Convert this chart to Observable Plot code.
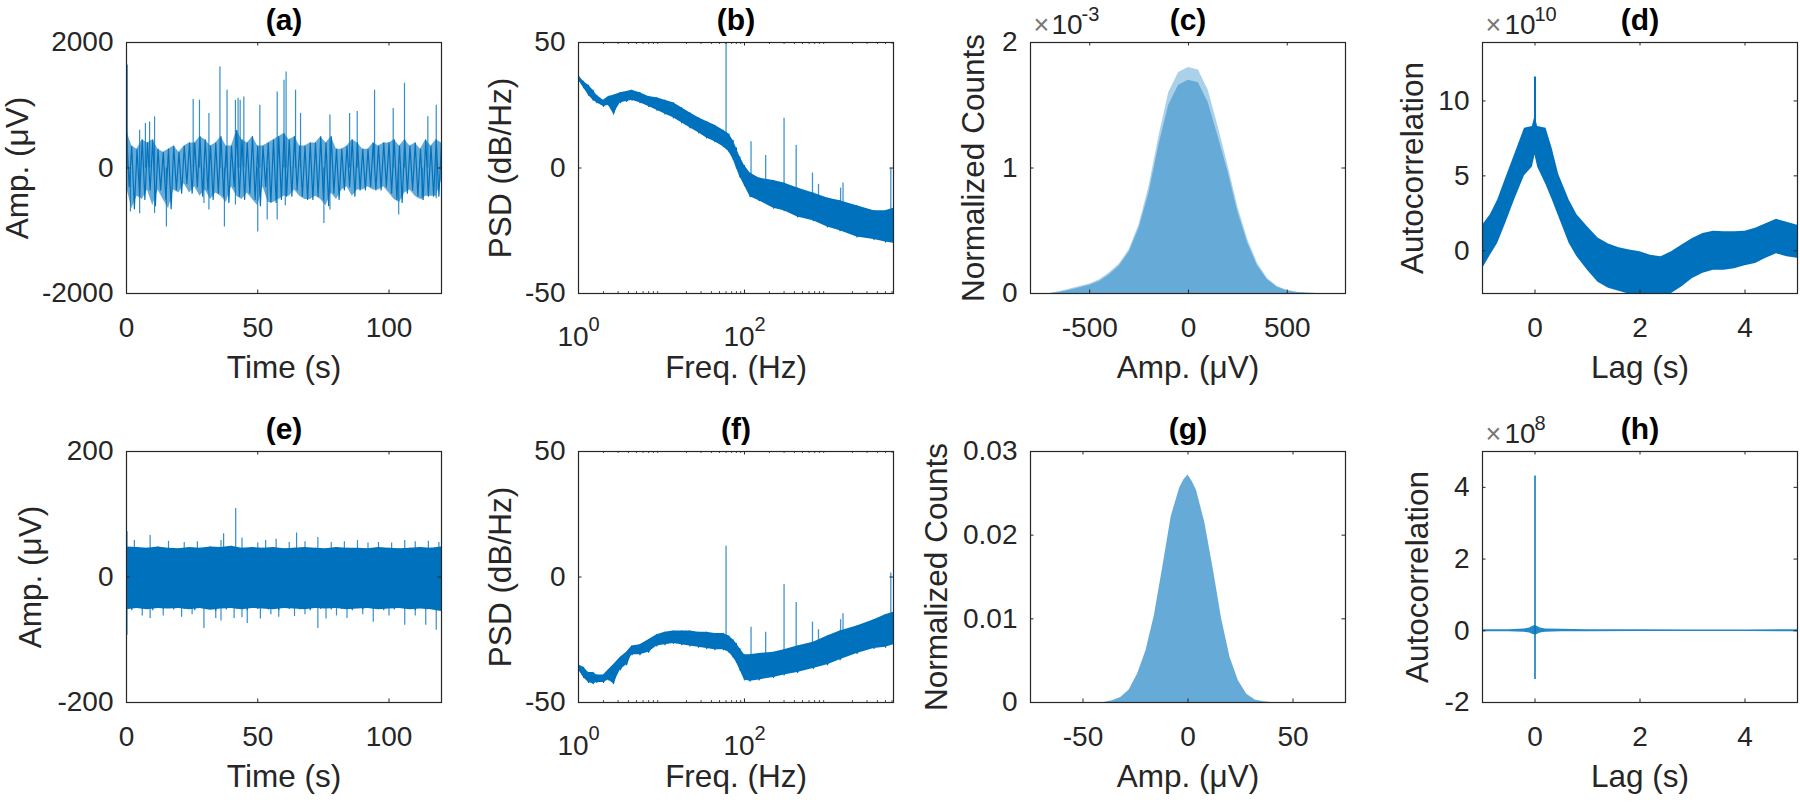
<!DOCTYPE html>
<html><head><meta charset="utf-8">
<script src="https://cdn.jsdelivr.net/npm/d3@7"></script>
<script src="https://cdn.jsdelivr.net/npm/@observablehq/plot@0.6"></script>
<style>
html,body{margin:0;padding:0;background:#fff;}
#fig{position:relative;width:1800px;height:809px;overflow:hidden;background:#fff;}
#fig svg{position:absolute;}
</style></head><body><div id="fig"></div>
<script>
// ---------- (a) raw signal, 0-120 s (uV): core band per 2 s + isolated spikes ----------
const aTime = [0,2,4,6,8,10,12,14,16,18,20,22,24,26,28,30,32,34,36,38,40,42,44,46,48,50,52,54,56,58,60,62,64,66,68,70,72,74,76,78,80,82,84,86,88,90,92,94,96,98,100,102,104,106,108,110,112,114,116,118,120];
const aHigh = [600,350,300,450,400,450,300,250,300,350,250,350,400,400,500,450,350,400,500,350,350,600,450,400,500,350,350,400,450,500,550,450,500,350,350,400,400,500,400,500,300,300,350,450,400,300,300,400,350,400,400,450,350,450,350,400,300,450,350,450,400];
const aLow = [-300,-650,-450,-500,-350,-600,-350,-500,-650,-350,-400,-250,-400,-300,-450,-350,-500,-400,-450,-550,-300,-450,-500,-400,-500,-600,-300,-550,-550,-500,-450,-450,-350,-450,-500,-500,-450,-500,-600,-400,-500,-350,-300,-450,-350,-350,-300,-350,-350,-300,-400,-500,-550,-400,-350,-450,-500,-450,-450,-450,-200];
const aUpT = [0.3,5,7.2,8.8,10.7,25.4,27.8,31.4,35.6,38.3,41.5,42.5,43.3,44.7,50.8,57.4,60,60.8,64.4,66.3,77.5,85,87.9,94.5,101.6,105.9,114.8,118];
const aUpV = [1640,600,710,735,815,1090,1080,870,1610,1240,1080,1110,1080,1130,1000,1210,1400,1530,1240,870,845,870,900,1240,950,1350,815,1000];
const aDnT = [1.5,5,10.7,15.2,29.5,31.4,37.3,41.5,50,53.6,57.4,60.5,75.2,77.5,103.7,112.6,118];
const aDnV = [-700,-730,-725,-940,-565,-670,-940,-590,-1020,-830,-830,-600,-885,-670,-750,-510,-490];

// ---------- (e) filtered signal (uV): core band per 4 s + spikes ----------
const eTime = [0,4,8,12,16,20,24,28,32,36,40,44,48,52,56,60,64,68,72,76,80,84,88,92,96,100,104,108,112,116,120];
const eHigh = [48,47,46,48,46,45,47,46,48,47,49,46,47,46,47,45,46,47,46,45,47,46,46,45,47,46,45,46,47,46,48];
const eLow = [-52,-50,-52,-50,-51,-50,-52,-50,-53,-51,-50,-52,-50,-51,-52,-50,-51,-52,-50,-51,-50,-52,-51,-50,-52,-51,-50,-52,-51,-52,-55];
const eUpT = [0.2,3,9,16,22,27,36,37,41.6,44,50,53,57,62,64.8,68,72.9,78,83,88,92,96,101,106,110,115,119];
const eUpV = [72,58,66,57,55,56,58,69,109,62,54,58,60,55,70,56,63,55,56,58,54,55,54,58,56,57,55];
const eDnT = [0.2,6,9,14,21,25,29.5,34,36,41,44,46,51,55,58,64,68,72.9,76,80,84,90,94,100,106,110,114,118];
const eDnV = [-93,-62,-66,-62,-64,-60,-82,-66,-70,-66,-65,-74,-67,-60,-64,-63,-60,-82,-67,-62,-66,-60,-72,-62,-77,-62,-77,-85];

// ---------- (b),(f) PSD (dB/Hz) ----------
const psdFreq = [1,1.15,1.32,1.5,1.66,2,2.3,2.64,3.2,3.8,4.4,5.5,7,8.8,11,13.9,17.5,22,28,35,44,55.6,65,73,80,88,100,117,150,224,300,436,675,1000,1418,2270,3640,5000,6250];
const bHigh = [37,34.5,33,31,29,27,28.5,29,30,30.5,31,30,28.5,28,27,26,24,22,20,18.5,17,15,13.5,11,8,4.5,1,-2,-4,-5,-6,-8,-10,-12,-13,-15,-17,-17,-16];
const bLow = [35,32,29,27,26,24.5,25,21.5,26,26.5,27,26,24.5,23,21.5,20,18,16,14,12,10.5,8.5,6.5,3.5,0,-3.5,-7,-11.5,-13,-16,-17,-19.5,-21,-23.5,-25,-27.5,-28.5,-29.5,-30];
const fHigh = [-35,-36,-38,-38,-39,-39,-37,-35,-32,-30,-27.5,-27,-25,-23,-22,-21.5,-21.5,-21.5,-22,-22,-22.5,-22.5,-23.5,-25,-26.5,-28.5,-31,-31,-30.5,-30,-29,-27.5,-26,-23.5,-21.5,-19.5,-17,-15,-14];
const fLow = [-37,-40,-42,-42.5,-42,-42,-41,-42.5,-37,-35,-31,-31,-30,-27.5,-27,-26.5,-27,-27.5,-28,-28.5,-29,-29,-30,-32,-34,-37,-41,-41.5,-41,-40,-39,-38,-36.5,-35,-33,-30.5,-28.5,-28,-27];
const lineFreq = [60,120,180,300,420,660,780,1440,1540,5800];
const bSpikeTop = [49.6,10.5,5,19.8,9,-2,-6.5,-8,-6,-0.2];
const bSpikeBase = [10,-5,-8,-10,-12,-14,-15,-18,-18,-20];
const fSpikeTop = [12.3,-20,-22,-3,-10.2,-18,-21,-17,-14.6,1.6];
const fSpikeBase = [-26,-35,-35,-35,-34,-33,-32,-28,-28,-22];
const logMajor = [1,100];
const logMajorExp = ["0","2"];
const logMinor = [2,3,4,5,6,7,8,9,20,30,40,50,60,70,80,90,200,300,400,500,600,700,800,900,2000,3000,4000,5000,6000];

// ---------- (c),(g) histograms ----------
const cAmp = [-700,-650,-600,-550,-500,-450,-400,-350,-300,-250,-200,-150,-100,-50,0,50,100,150,200,250,300,350,400,450,500,550,600,650];
const cTop = [0,0.015,0.035,0.055,0.075,0.11,0.165,0.235,0.35,0.55,0.85,1.25,1.6,1.76,1.8,1.78,1.62,1.33,1.02,0.69,0.43,0.24,0.12,0.055,0.025,0.01,0.003,0];
const cMain = [0,0.01,0.025,0.045,0.065,0.095,0.15,0.22,0.33,0.52,0.8,1.18,1.5,1.66,1.7,1.68,1.52,1.25,0.97,0.65,0.4,0.22,0.11,0.05,0.02,0.008,0.002,0];
const gAmp = [-40,-36,-32,-28,-24,-20,-16,-12,-8,-4,-2,0,1,2,4,8,12,16,20,24,28,32,36,40];
const gCount = [0,0.0002,0.0006,0.0015,0.0034,0.0062,0.0104,0.0162,0.0222,0.0256,0.0266,0.0272,0.0268,0.0264,0.0254,0.0215,0.016,0.01,0.0054,0.0026,0.001,0.0003,0.0001,0];

// ---------- (d),(h) autocorrelation ----------
const dLag = [-1,-0.85,-0.71,-0.55,-0.39,-0.2,-0.05,0,0.05,0.21,0.33,0.45,0.65,0.8,1.0,1.2,1.4,1.6,1.8,2.0,2.2,2.4,2.6,2.8,3.0,3.2,3.4,3.6,3.8,4.0,4.2,4.4,4.6,4.8,5.0];
const dHigh = [1.7,2.4,3.39,4.9,6.4,8.17,8.3,9.0,8.3,8.17,6.8,5.1,3.39,2.4,1.6,0.85,0.45,0.2,0.05,-0.07,-0.29,-0.4,-0.07,0.38,0.82,1.16,1.3,1.27,1.27,1.3,1.5,1.8,2.1,1.9,1.7];
const dLow = [-1.2,-0.3,0.5,1.9,3.39,5.0,5.6,6.4,5.6,4.4,3.39,2.3,0.5,-0.4,-1.3,-2.1,-2.5,-2.7,-2.9,-3.0,-3.1,-3.1,-2.85,-2.4,-1.85,-1.5,-1.3,-1.3,-1.2,-1.0,-0.85,-0.5,-0.2,-0.4,-0.5];
const dPeak = {lag: 0, lo: 8.0, hi: 11.6};
const hLag = [-1,-0.5,-0.2,-0.1,-0.05,0,0.05,0.1,0.2,0.5,1,2,3,4,5];
const hHigh = [0.03,0.03,0.05,0.08,0.12,0.15,0.12,0.08,0.05,0.04,0.03,0.03,0.02,0.02,0.03];
const hLow = [-0.03,-0.03,-0.04,-0.06,-0.1,-0.12,-0.1,-0.06,-0.04,-0.03,-0.03,-0.02,-0.02,-0.02,-0.03];
const hPeak = {lag: 0, lo: -1.36, hi: 4.32};

// ---------- layout / style ----------
const BLUE = "#0072BD", HISTC = "#66AAD7", INK = "#262626";
const FONT = "'Liberation Sans', Arial, Helvetica, sans-serif";
const FW = 315, FH = 251, ML = 130, MR = 20, MT = 50, MB = 100, TL = 3.5;
const TICKF = 28, LABELF = 31.5, TITLEF = 30;
const fig = document.getElementById("fig");

function panel(c) {
  const m = [...c.marks];
  if (c.minorX) m.push(
    Plot.ruleX(c.minorX, {x: d => d, insetTop: FH - 2, stroke: INK, strokeWidth: 0.8}),
    Plot.ruleX(c.minorX, {x: d => d, insetBottom: FH - 2, stroke: INK, strokeWidth: 0.8}));
  m.push(
    Plot.ruleX(c.xTicks, {x: d => d, insetTop: FH - TL, stroke: INK, strokeWidth: 1}),
    Plot.ruleX(c.xTicks, {x: d => d, insetBottom: FH - TL, stroke: INK, strokeWidth: 1}),
    Plot.ruleY(c.yTicks, {y: d => d, insetRight: FW - TL, stroke: INK, strokeWidth: 1}),
    Plot.ruleY(c.yTicks, {y: d => d, insetLeft: FW - TL, stroke: INK, strokeWidth: 1}),
    Plot.frame({stroke: INK, strokeWidth: 1.2}),
    Plot.text(c.yTicks, {y: d => d, text: (d, i) => c.yLabels[i], frameAnchor: "left", textAnchor: "end", lineAnchor: "middle", dx: -13, fontSize: TICKF, fill: INK}),
    Plot.text([c.title], {text: d => d, frameAnchor: "top", lineAnchor: "bottom", dy: -13, fontSize: TITLEF, fontWeight: "bold", fill: "#000"}),
    Plot.text([c.xLabel], {text: d => d, frameAnchor: "bottom", lineAnchor: "bottom", dy: 84, fontSize: LABELF, fill: INK}),
    Plot.text([c.yLabel], {text: d => d, frameAnchor: "left", rotate: -90, lineAnchor: "middle", textAnchor: "middle", dx: -c.yLabelDx, fontSize: LABELF, fill: INK})
  );
  if (c.logX) {
    m.push(
      Plot.text(c.xTicks, {x: d => d, text: () => "10", frameAnchor: "bottom", textAnchor: "start", lineAnchor: "bottom", dx: -21, dy: 52, fontSize: TICKF, fill: INK}),
      Plot.text(c.xTicks, {x: d => d, text: (d, i) => c.xLabels[i], frameAnchor: "bottom", textAnchor: "start", lineAnchor: "bottom", dx: 10, dy: 37, fontSize: 20, fill: INK}));
  } else {
    m.push(Plot.text(c.xTicks, {x: d => d, text: (d, i) => c.xLabels[i], frameAnchor: "bottom", lineAnchor: "middle", dy: 35, fontSize: TICKF, fill: INK}));
  }
  if (c.exponent) {
    m.push(
      Plot.text(["×"], {text: d => d, frameAnchor: "top-left", textAnchor: "start", lineAnchor: "bottom", dx: 3, dy: -9, fontSize: 27, fill: "#777"}),
      Plot.text(["10"], {text: d => d, frameAnchor: "top-left", textAnchor: "start", lineAnchor: "bottom", dx: c.expDx, dy: -9, fontSize: TICKF, fill: INK}),
      Plot.text([c.exponent], {text: d => d, frameAnchor: "top-left", textAnchor: "start", lineAnchor: "bottom", dx: c.expDx + 30, dy: -22, fontSize: 20, fill: INK}));
  }
  const svg = Plot.plot({
    width: FW + ML + MR, height: FH + MT + MB,
    marginLeft: ML, marginRight: MR, marginTop: MT, marginBottom: MB,
    style: {fontFamily: FONT, background: "transparent", overflow: "visible"},
    x: {...c.x, axis: null},
    y: {...c.y, axis: null},
    marks: m
  });
  svg.style.position = "absolute";
  svg.style.left = (c.left - ML) + "px";
  svg.style.top = (c.top - MT) + "px";
  fig.appendChild(svg);
}

// tables built from the arrays
const aBand = aTime.map((t, i) => ({t, hi: aHigh[i], lo: aLow[i]}));
const aZig = aBand.flatMap(d => [{t: d.t, v: d.hi}, {t: d.t + 1, v: d.lo}]);
const aSpk = aUpT.map((t, i) => ({t, v: aUpV[i]})).concat(aDnT.map((t, i) => ({t, v: aDnV[i]})));
const eBand = eTime.map((t, i) => ({t, hi: eHigh[i], lo: eLow[i]}));
const eZig = eBand.flatMap(d => [{t: d.t, v: d.hi}, {t: d.t + 2, v: d.lo}]);
const eSpk = eUpT.map((t, i) => ({t, v: eUpV[i]})).concat(eDnT.map((t, i) => ({t, v: eDnV[i]})));
const bBand = psdFreq.map((f, i) => ({f, hi: bHigh[i], lo: bLow[i]}));
const fBand = psdFreq.map((f, i) => ({f, hi: fHigh[i], lo: fLow[i]}));
const zig = band => band.flatMap(d => [{f: d.f, v: d.hi}, {f: d.f, v: d.lo}]);
const bSpk = lineFreq.map((f, i) => ({f, top: bSpikeTop[i], base: bSpikeBase[i]}));
const fSpk = lineFreq.map((f, i) => ({f, top: fSpikeTop[i], base: fSpikeBase[i]}));
const cHist = cAmp.map((a, i) => ({a, top: cTop[i], main: cMain[i]}));
const gHist = gAmp.map((a, i) => ({a, v: gCount[i]}));
const dBand = dLag.map((l, i) => ({l, hi: dHigh[i], lo: dLow[i]}));
const hBand = hLag.map((l, i) => ({l, hi: hHigh[i], lo: hLow[i]}));

const psdMarks = (band, spk) => [
  Plot.areaY(band, {x: "f", y1: "lo", y2: "hi", fill: BLUE, clip: true}),
  Plot.lineY(zig(band), {x: "f", y: "v", stroke: BLUE, strokeWidth: 1.2, clip: true}),
  Plot.ruleX(spk, {x: "f", y1: "base", y2: "top", stroke: BLUE, strokeOpacity: 0.75, strokeWidth: 1.3, clip: true})
];

// (a)
panel({left: 126, top: 42, x: {domain: [0, 120]}, y: {domain: [-2000, 2000]},
  xTicks: [0, 50, 100], xLabels: ["0", "50", "100"], yTicks: [-2000, 0, 2000], yLabels: ["-2000", "0", "2000"],
  title: "(a)", xLabel: "Time (s)", yLabel: "Amp. (μV)", yLabelDx: 109,
  marks: [
    Plot.areaY(aBand, {x: "t", y1: "lo", y2: "hi", fill: BLUE, fillOpacity: 0.6, clip: true}),
    Plot.ruleX(aSpk, {x: "t", y1: 0, y2: "v", stroke: BLUE, strokeOpacity: 0.8, strokeWidth: 1.2, clip: true}),
    Plot.lineY(aZig, {x: "t", y: "v", stroke: BLUE, strokeWidth: 1.2, clip: true})
  ]});
// (b)
panel({left: 578, top: 42, x: {type: "log", domain: [1, 6250]}, y: {domain: [-50, 50]}, logX: true, minorX: logMinor,
  xTicks: logMajor, xLabels: logMajorExp, yTicks: [-50, 0, 50], yLabels: ["-50", "0", "50"],
  title: "(b)", xLabel: "Freq. (Hz)", yLabel: "PSD (dB/Hz)", yLabelDx: 78,
  marks: psdMarks(bBand, bSpk)});
// (c)
panel({left: 1030, top: 42, x: {domain: [-800, 795]}, y: {domain: [0, 2]},
  xTicks: [-500, 0, 500], xLabels: ["-500", "0", "500"], yTicks: [0, 1, 2], yLabels: ["0", "1", "2"],
  title: "(c)", xLabel: "Amp. (μV)", yLabel: "Normalized Counts", yLabelDx: 57, exponent: "-3", expDx: 21,
  marks: [
    Plot.areaY(cHist, {x: "a", y: "top", fill: HISTC, fillOpacity: 0.55, clip: true}),
    Plot.areaY(cHist, {x: "a", y: "main", fill: HISTC, clip: true})
  ]});
// (d)
panel({left: 1482, top: 42, x: {domain: [-1, 5]}, y: {domain: [-2.85, 13.9]},
  xTicks: [0, 2, 4], xLabels: ["0", "2", "4"], yTicks: [0, 5, 10], yLabels: ["0", "5", "10"],
  title: "(d)", xLabel: "Lag (s)", yLabel: "Autocorrelation", yLabelDx: 70, exponent: "10", expDx: 22,
  marks: [
    Plot.areaY(dBand, {x: "l", y1: "lo", y2: "hi", fill: BLUE, clip: true}),
    Plot.ruleX([dPeak], {x: "lag", y1: "lo", y2: "hi", stroke: BLUE, strokeWidth: 2, clip: true})
  ]});
// (e)
panel({left: 126, top: 451, x: {domain: [0, 120]}, y: {domain: [-200, 200]},
  xTicks: [0, 50, 100], xLabels: ["0", "50", "100"], yTicks: [-200, 0, 200], yLabels: ["-200", "0", "200"],
  title: "(e)", xLabel: "Time (s)", yLabel: "Amp. (μV)", yLabelDx: 96,
  marks: [
    Plot.areaY(eBand, {x: "t", y1: "lo", y2: "hi", fill: BLUE, clip: true}),
    Plot.lineY(eZig, {x: "t", y: "v", stroke: BLUE, strokeWidth: 1.2, clip: true}),
    Plot.ruleX(eSpk, {x: "t", y1: 0, y2: "v", stroke: BLUE, strokeOpacity: 0.8, strokeWidth: 1.2, clip: true})
  ]});
// (f)
panel({left: 578, top: 451, x: {type: "log", domain: [1, 6250]}, y: {domain: [-50, 50]}, logX: true, minorX: logMinor,
  xTicks: logMajor, xLabels: logMajorExp, yTicks: [-50, 0, 50], yLabels: ["-50", "0", "50"],
  title: "(f)", xLabel: "Freq. (Hz)", yLabel: "PSD (dB/Hz)", yLabelDx: 78,
  marks: psdMarks(fBand, fSpk)});
// (g)
panel({left: 1030, top: 451, x: {domain: [-75, 75]}, y: {domain: [0, 0.03]},
  xTicks: [-50, 0, 50], xLabels: ["-50", "0", "50"], yTicks: [0, 0.01, 0.02, 0.03], yLabels: ["0", "0.01", "0.02", "0.03"],
  title: "(g)", xLabel: "Amp. (μV)", yLabel: "Normalized Counts", yLabelDx: 94,
  marks: [
    Plot.areaY(gHist, {x: "a", y: "v", fill: HISTC, clip: true})
  ]});
// (h)
panel({left: 1482, top: 451, x: {domain: [-1, 5]}, y: {domain: [-2, 5]},
  xTicks: [0, 2, 4], xLabels: ["0", "2", "4"], yTicks: [-2, 0, 2, 4], yLabels: ["-2", "0", "2", "4"],
  title: "(h)", xLabel: "Lag (s)", yLabel: "Autocorrelation", yLabelDx: 65, exponent: "8", expDx: 22,
  marks: [
    Plot.areaY(hBand, {x: "l", y1: "lo", y2: "hi", fill: BLUE, fillOpacity: 0.85, clip: true}),
    Plot.ruleX([hPeak], {x: "lag", y1: "lo", y2: "hi", stroke: BLUE, strokeWidth: 1.5, clip: true})
  ]});
</script></body></html>
